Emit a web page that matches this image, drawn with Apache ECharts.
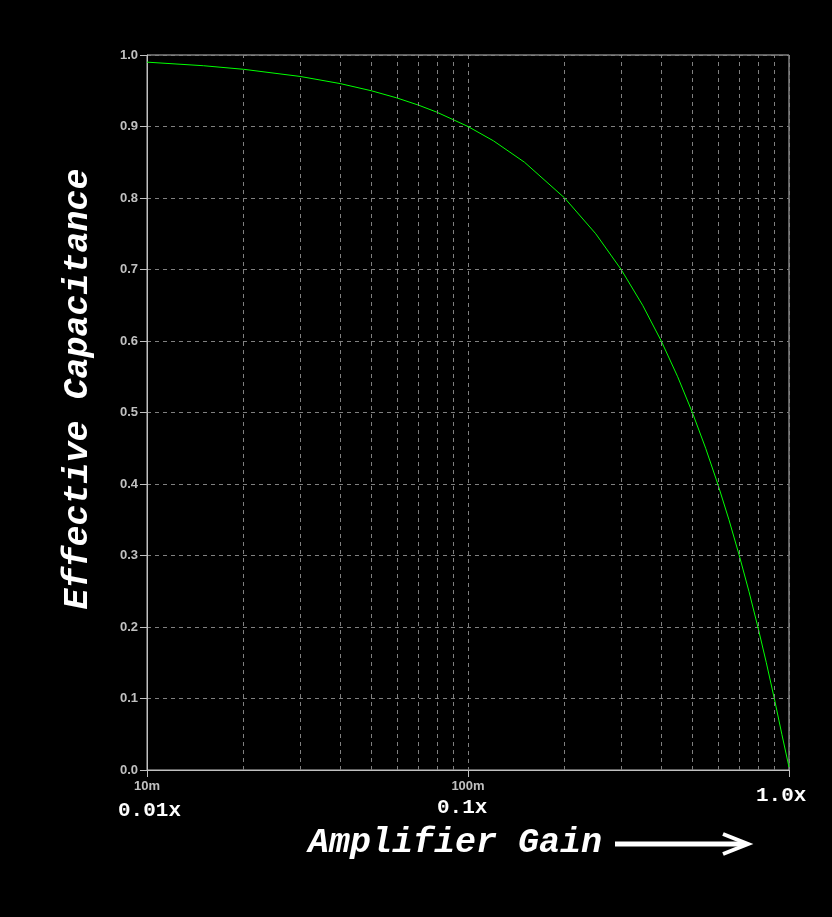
<!DOCTYPE html>
<html><head><meta charset="utf-8">
<script src="https://cdn.jsdelivr.net/npm/echarts@6/dist/echarts.min.js"></script>
<style>html,body{margin:0;padding:0;background:#000;}#c{width:832px;height:917px;}</style>
</head><body><div id="c"></div>
<script>
// Amplifier gain (x, log) and effective capacitance (y)
const gain = [0.01,0.015,0.02,0.03,0.04,0.05,0.06,0.07,0.08,0.1,0.12,0.15,0.2,0.25,0.3,0.35,0.4,0.45,0.5,0.55,0.6,0.65,0.7,0.75,0.8,0.85,0.9,0.95,1.0];
const cap  = [0.99,0.985,0.98,0.97,0.96,0.95,0.94,0.93,0.92,0.90,0.88,0.85,0.80,0.75,0.70,0.65,0.60,0.55,0.50,0.45,0.40,0.35,0.30,0.25,0.20,0.15,0.10,0.05,0.004];
// minor vertical grid lines
const minorGrid = [0.02,0.03,0.04,0.05,0.06,0.07,0.08,0.09,0.2,0.3,0.4,0.5,0.6,0.7,0.8,0.9];
const xTickLabels = {0.01:'10m', 0.1:'100m'};
const gainLabels = ['0.01x','0.1x','1.0x'];

const chart = echarts.init(document.getElementById('c'));
const gridColor = '#808080';
const axisColor = '#c0c0c0';
const mono = '"Liberation Mono", "Courier New", monospace';
const sans = '"Liberation Sans", Arial, sans-serif';
chart.setOption({
  backgroundColor:'#000',
  animation:false,
  grid:{left:147,right:43,top:55,bottom:147,show:true,borderColor:axisColor,borderWidth:1,backgroundColor:'transparent'},
  xAxis:{type:'log',logBase:10,min:0.01,max:1,
    axisLine:{show:true,lineStyle:{color:axisColor,width:1}},
    axisTick:{show:true,length:7,lineStyle:{color:axisColor}},
    axisLabel:{color:axisColor,fontFamily:sans,fontWeight:'bold',fontSize:13,margin:10,
      formatter:v=>{const k=Object.keys(xTickLabels).find(t=>Math.abs(+t-v)<1e-9);return k?xTickLabels[k]:'';}},
    splitLine:{show:true,lineStyle:{color:gridColor,type:[4,4],width:1}}
  },
  yAxis:{type:'value',min:0,max:1,interval:0.1,
    axisLine:{show:true,lineStyle:{color:axisColor,width:1}},
    axisTick:{show:true,length:7,lineStyle:{color:axisColor}},
    axisLabel:{color:axisColor,fontFamily:sans,fontWeight:'bold',fontSize:13,margin:9,
      formatter:v=>v.toFixed(1)},
    splitLine:{show:true,lineStyle:{color:gridColor,type:[4,4],width:1}}
  },
  series:[
    {type:'line',data:[],silent:true,z:1,
      markLine:{silent:true,symbol:['none','none'],label:{show:false},
        lineStyle:{color:gridColor,type:[4,4],width:1},
        data:minorGrid.map(v=>({xAxis:v}))}},
    {type:'line',z:3,data:gain.map((g,i)=>[g,cap[i]]),showSymbol:false,symbol:'none',
      lineStyle:{color:'#00ff00',width:1}}
  ],
  graphic:[
    {type:'text',left:118,top:800,style:{text:gainLabels[0],fill:'#fff',font:'bold 21px '+mono}},
    {type:'text',left:437,top:797,style:{text:gainLabels[1],fill:'#fff',font:'bold 21px '+mono}},
    {type:'text',left:756,top:785,style:{text:gainLabels[2],fill:'#fff',font:'bold 21px '+mono}},
    {type:'text',left:308,top:826,style:{text:'Amplifier Gain',fill:'#fff',font:'italic bold 35px '+mono}},
    {type:'line',shape:{x1:615,y1:844,x2:744,y2:844},style:{stroke:'#fff',lineWidth:5}},
    {type:'polyline',shape:{points:[[723,834],[748,844],[723,854]]},style:{stroke:'#fff',lineWidth:4,fill:null}},
    {type:'text',x:78,y:389,rotation:Math.PI/2,style:{text:'Effective Capacitance',fill:'#fff',font:'italic bold 35px '+mono,align:'center',verticalAlign:'middle'}}
  ]
});
</script></body></html>
